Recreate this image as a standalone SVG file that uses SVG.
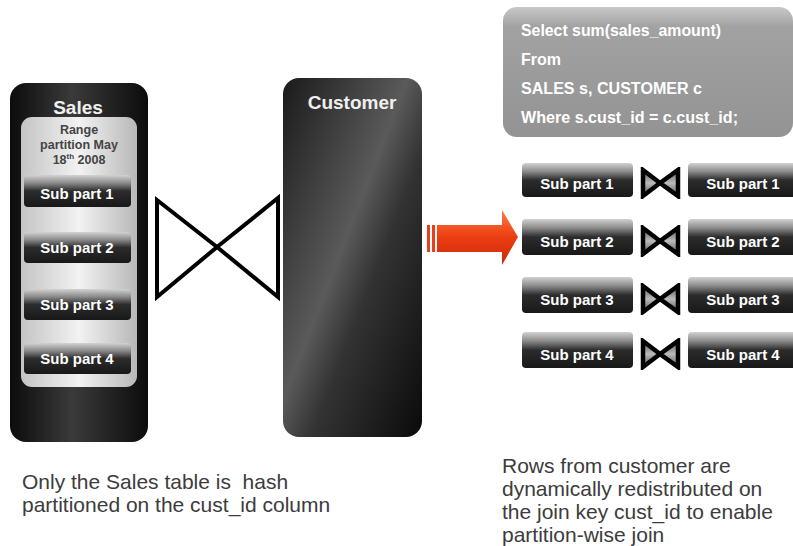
<svg xmlns="http://www.w3.org/2000/svg" width="793" height="546" viewBox="0 0 793 546">
<defs>
<linearGradient id="gSales" x1="0" y1="0" x2="1" y2="0">
<stop offset="0" stop-color="#0c0c0c"/><stop offset="0.45" stop-color="#3a3a3a"/><stop offset="1" stop-color="#0c0c0c"/>
</linearGradient>
<linearGradient id="gCust" x1="0" y1="0" x2="1" y2="1">
<stop offset="0" stop-color="#1a1a1a"/><stop offset="0.45" stop-color="#5a5a5a"/><stop offset="0.6" stop-color="#333"/><stop offset="1" stop-color="#0a0a0a"/>
</linearGradient>
<linearGradient id="gPanel" x1="0" y1="0" x2="1" y2="0">
<stop offset="0" stop-color="#c4c4c4"/><stop offset="0.5" stop-color="#f2f2f2"/><stop offset="1" stop-color="#b8b8b8"/>
</linearGradient>
<linearGradient id="gBar" x1="0" y1="0" x2="0" y2="1">
<stop offset="0" stop-color="#d2d2d2"/><stop offset="0.25" stop-color="#8a8a8a"/><stop offset="0.5" stop-color="#2c2c2c"/><stop offset="1" stop-color="#181818"/>
</linearGradient>
<linearGradient id="gTie" x1="0" y1="0" x2="0" y2="1">
<stop offset="0" stop-color="#555"/><stop offset="0.5" stop-color="#bbb"/><stop offset="1" stop-color="#555"/>
</linearGradient>
<linearGradient id="gSql" x1="0" y1="0" x2="0" y2="1">
<stop offset="0" stop-color="#c8c8c8"/><stop offset="0.15" stop-color="#a2a2a2"/><stop offset="1" stop-color="#939393"/>
</linearGradient>
<linearGradient id="gArrow" x1="0" y1="0" x2="0" y2="1">
<stop offset="0" stop-color="#ff7a40"/><stop offset="0.5" stop-color="#ec3d12"/><stop offset="1" stop-color="#c82a08"/>
</linearGradient>
<filter id="soft" x="-10%" y="-10%" width="120%" height="120%"><feGaussianBlur stdDeviation="0.5"/></filter>
</defs>
<style>
.bar{fill:url(#gBar);}
.bt{font-family:"Liberation Sans",Arial,sans-serif;font-weight:bold;font-size:15px;fill:#fff;text-anchor:middle;}
.title{font-family:"Liberation Sans",Arial,sans-serif;font-weight:bold;font-size:19px;fill:#f0f0f0;text-anchor:middle;}
.sql{font-family:"Liberation Sans",Arial,sans-serif;font-weight:bold;font-size:16px;fill:#fff;}
.rng{font-family:"Liberation Sans",Arial,sans-serif;font-weight:bold;font-size:12.5px;fill:#444;text-anchor:middle;}
.note{font-family:"Liberation Sans",Arial,sans-serif;font-size:21px;fill:#3c3c3c;}
.tie{fill:none;stroke:#000;stroke-linejoin:miter;}
.stie{fill:url(#gTie);stroke:#000;stroke-width:4.5;stroke-linejoin:miter;}
</style>
<rect width="793" height="546" fill="#fff"/>

<g id="sales">
<rect x="10" y="83" width="138" height="359" rx="16" fill="url(#gSales)"/>
<text class="title" x="78" y="114">Sales</text>
<rect x="21" y="117" width="116" height="270" rx="11" fill="url(#gPanel)"/>
<text class="rng" x="79" y="134">Range</text>
<text class="rng" x="79" y="149">partition May</text>
<text class="rng" x="79" y="164">18<tspan font-size="8" dy="-5">th</tspan><tspan dy="5"> 2008</tspan></text>
<g id="s1"><rect class="bar" x="24" y="175" width="107" height="32" rx="4"/><text class="bt" x="77" y="198.5">Sub part 1</text></g>
<g id="s2"><rect class="bar" x="24" y="232" width="107" height="31" rx="4"/><text class="bt" x="77" y="252.5">Sub part 2</text></g>
<g id="s3"><rect class="bar" x="24" y="289" width="107" height="31" rx="4"/><text class="bt" x="77" y="309.5">Sub part 3</text></g>
<g id="s4"><rect class="bar" x="24" y="343" width="107" height="31" rx="4"/><text class="bt" x="77" y="363.5">Sub part 4</text></g>
</g>

<g id="customer">
<rect x="283" y="78" width="139" height="359" rx="16" fill="url(#gCust)"/>
<text class="title" x="352" y="109">Customer</text>
</g>

<g id="sql">
<rect x="503" y="7" width="290" height="130" rx="14" fill="url(#gSql)"/>
<text class="sql" x="521" y="36" textLength="200" lengthAdjust="spacingAndGlyphs">Select sum(sales_amount)</text>
<text class="sql" x="521" y="65">From</text>
<text class="sql" x="521" y="94" textLength="181" lengthAdjust="spacingAndGlyphs">SALES s, CUSTOMER c</text>
<text class="sql" x="521" y="123" textLength="217" lengthAdjust="spacingAndGlyphs">Where  s.cust_id = c.cust_id;</text>
</g>

<g id="rows">
<g id="l1"><rect class="bar" x="522" y="163" width="111" height="34" rx="4"/><text class="bt" x="577" y="188.5">Sub part 1</text></g>
<g id="l2"><rect class="bar" x="522" y="219" width="111" height="36" rx="4"/><text class="bt" x="577" y="246.5">Sub part 2</text></g>
<g id="l3"><rect class="bar" x="522" y="277" width="111" height="36" rx="4"/><text class="bt" x="577" y="304.5">Sub part 3</text></g>
<g id="l4"><rect class="bar" x="522" y="332" width="111" height="36" rx="4"/><text class="bt" x="577" y="359.5">Sub part 4</text></g>
<g id="r1"><rect class="bar" x="688" y="163" width="110" height="34" rx="4"/><text class="bt" x="743" y="188.5">Sub part 1</text></g>
<g id="r2"><rect class="bar" x="688" y="219" width="110" height="36" rx="4"/><text class="bt" x="743" y="246.5">Sub part 2</text></g>
<g id="r3"><rect class="bar" x="688" y="277" width="110" height="36" rx="4"/><text class="bt" x="743" y="304.5">Sub part 3</text></g>
<g id="r4"><rect class="bar" x="688" y="332" width="110" height="36" rx="4"/><text class="bt" x="743" y="359.5">Sub part 4</text></g>
</g>

<g id="connectors">
<path class="tie" stroke-width="4" filter="url(#soft)" d="M157,200 L157,297 L217,247 Z M217,247 L278,198 L278,297 Z"/>
<path class="stie" filter="url(#soft)" d="M643,170 L643,196 L660,183 Z M660,183 L678,170 L678,196 Z"/>
<path class="stie" filter="url(#soft)" d="M643,228 L643,254 L660,241 Z M660,241 L678,228 L678,254 Z"/>
<path class="stie" filter="url(#soft)" d="M643,286 L643,312 L660,299 Z M660,299 L678,286 L678,312 Z"/>
<path class="stie" filter="url(#soft)" d="M643,341 L643,367 L660,354 Z M660,354 L678,341 L678,367 Z"/>
<g id="arrow">
<rect x="427" y="225" width="3" height="27" fill="#e8401a"/>
<rect x="432" y="225" width="3" height="27" fill="#e8401a"/>
<path d="M437,225 L502,225 L502,210 L518,237 L502,265 L502,252 L437,252 Z" fill="url(#gArrow)"/>
</g>
</g>

<g id="notes">
<text class="note" x="22" y="488.5" xml:space="preserve">Only the Sales table is  hash</text>
<text class="note" x="22" y="512">partitioned on the cust_id column</text>
<text class="note" x="502" y="472.5">Rows from customer are</text>
<text class="note" x="502" y="495.5">dynamically redistributed on</text>
<text class="note" x="502" y="519">the join key cust_id to enable</text>
<text class="note" x="502" y="542">partition-wise join</text>
</g>
</svg>
